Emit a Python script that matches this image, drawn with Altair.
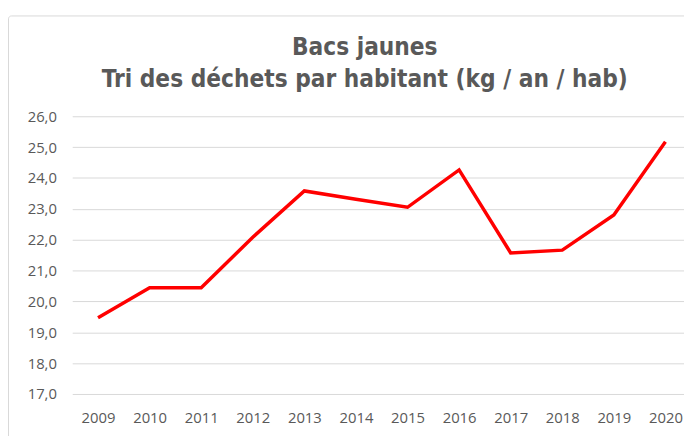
import altair as alt
import pandas as pd

years = [2009, 2010, 2011, 2012, 2013, 2014, 2015, 2016, 2017, 2018, 2019, 2020]
values = [19.47, 20.44, 20.44, 22.08, 23.58, 23.31, 23.05, 24.26, 21.57, 21.66, 22.80, 25.17]
y_ticks = [17, 18, 19, 20, 21, 22, 23, 24, 25, 26]
title_lines = ["Bacs jaunes", "Tri des déchets par habitant (kg / an / hab)"]

df = pd.DataFrame({"annee": years, "kg": values})

GRAY_TXT = "#595959"
GRID = "#d9d9d9"
TITLE_FONT = "'DejaVu Sans Condensed', 'Roboto Condensed', 'Arial Narrow', sans-serif"

frame = alt.Chart(pd.DataFrame({"a": [0]})).mark_rect(
    fill="transparent", stroke=GRID, strokeWidth=1, cornerRadius=3
).encode(
    x=alt.value(-64.5), x2=alt.value(640), y=alt.value(-101.5), y2=alt.value(340)
)

title1 = alt.Chart(pd.DataFrame({"t": [title_lines[0]]})).mark_text(
    font=TITLE_FONT, fontSize=24.5, fontWeight="bold", color=GRAY_TXT,
    align="center", baseline="alphabetic"
).encode(text="t:N", x=alt.value(296), y=alt.value(-62))

title2 = alt.Chart(pd.DataFrame({"t": [title_lines[1]]})).mark_text(
    font=TITLE_FONT, fontSize=24.5, fontWeight="bold", color=GRAY_TXT,
    align="center", baseline="alphabetic"
).encode(text="t:N", x=alt.value(296), y=alt.value(-30))

line = alt.Chart(df).mark_line(color="#ff0000", strokeWidth=3.5, strokeJoin="miter").encode(
    x=alt.X("annee:Q",
            scale=alt.Scale(domain=[2008.5, 2020.36], nice=False, zero=False),
            axis=alt.Axis(values=years, format="d", grid=False, domain=False, ticks=False,
                          labelPadding=17, labelFontSize=15, labelColor=GRAY_TXT,
                          labelFont="Open Sans", title=None)),
    y=alt.Y("kg:Q",
            scale=alt.Scale(domain=[17, 26], nice=False, zero=False),
            axis=alt.Axis(values=y_ticks, grid=True, gridColor=GRID, gridWidth=1,
                          domain=False, ticks=False, labelPadding=16, labelFontSize=15,
                          labelColor=GRAY_TXT, labelFont="Open Sans",
                          labelExpr="replace(format(datum.value, '.1f'), '.', ',')",
                          title=None)),
)

chart = alt.layer(frame, title1, title2, line).properties(
    width=619,
    height=281,
    padding={"left": 65, "top": 107, "right": 0, "bottom": 40},
    autosize=alt.AutoSizeParams(type="none"),
).configure_view(stroke=None)

chart.save("out.html", embed_options={"renderer": "svg", "actions": False})
